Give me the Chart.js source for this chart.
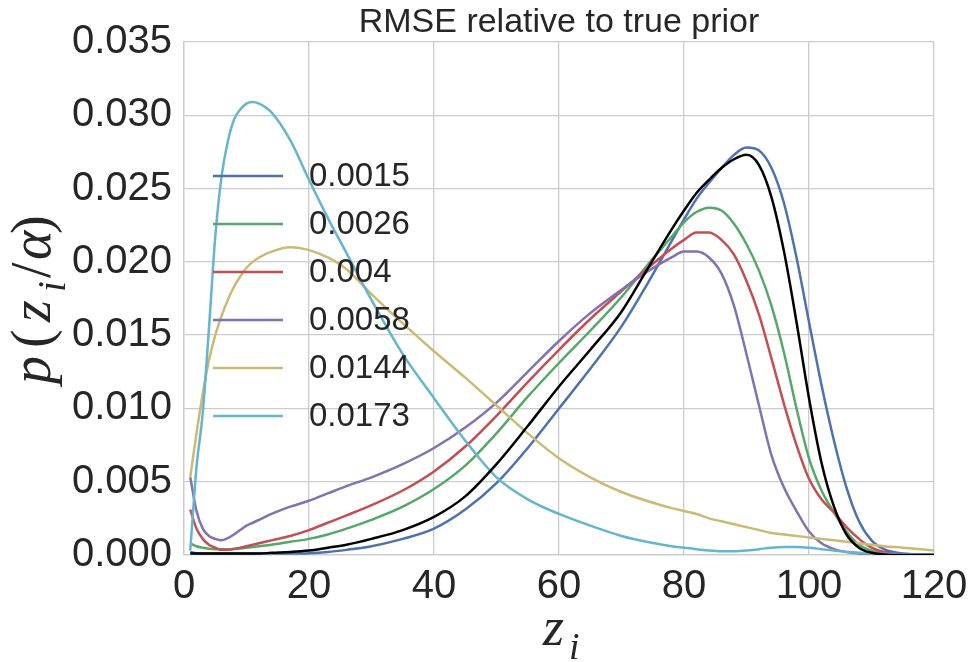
<!DOCTYPE html>
<html>
<head>
<meta charset="utf-8">
<script src="https://cdn.jsdelivr.net/npm/chart.js@4.4.0/dist/chart.umd.min.js"></script>
<style>
  html, body { margin: 0; padding: 0; background: #fff; }
  #wrap { width: 972px; height: 662px; position: relative; }
</style>
</head>
<body>
<div id="wrap"><canvas id="rmseChart"></canvas></div>
<script>
// z_i grid shared by all curves
const zGrid = [1, 2, 3, 4, 5, 6, 7, 8, 9, 10, 11, 12, 14, 17, 20, 23, 26, 30, 35, 40, 45, 50, 55, 60, 65, 70,
  74, 78, 80, 82, 84, 86, 88, 90, 92, 94, 96, 98, 100, 102, 104, 106, 108, 110, 112, 115, 120];

// p(z_i / alpha), one list per RMSE value
const rmse0015 = [0.0002, 0.00012, 0.0001, 0.0001, 0.0001, 0.0001, 0.0001, 0.0001, 0.0001, 0.0001, 0.0001, 0.0001, 0.0001, 0.0001, 0.00012, 0.0002, 0.00035, 0.0006, 0.0011, 0.0018, 0.0031, 0.0049, 0.0073, 0.0100, 0.0127, 0.0156,
  0.0184, 0.0214, 0.0229, 0.0243, 0.0254, 0.0264, 0.0273, 0.0278, 0.0276, 0.0264, 0.0240, 0.0203, 0.0159, 0.0116, 0.0078, 0.0046, 0.0023, 0.0010, 0.0004, 0.0001, 0.00002];
const rmse0026 = [0.0008, 0.0006, 0.0005, 0.00043, 0.0004, 0.0004, 0.0004, 0.00042, 0.00045, 0.0005, 0.00055, 0.0006, 0.0007, 0.0009, 0.0011, 0.0014, 0.0018, 0.0024, 0.0033, 0.0045, 0.0061, 0.0083, 0.0108, 0.0131, 0.0153, 0.0176,
  0.0197, 0.0217, 0.0227, 0.0234, 0.0237, 0.0235, 0.0226, 0.0212, 0.0194, 0.0170, 0.0138, 0.0100, 0.0066, 0.0044, 0.0029, 0.0016, 0.0007, 0.0003, 0.0001, 0.00003, 0];
const rmse004 = [0.0031, 0.0018, 0.0011, 0.0007, 0.0005, 0.00036, 0.00036, 0.0004, 0.0005, 0.0006, 0.0007, 0.0008, 0.0010, 0.0013, 0.0017, 0.0022, 0.0027, 0.0034, 0.0044, 0.0057, 0.0074, 0.0095, 0.0118, 0.0140, 0.0161, 0.0180,
  0.0195, 0.0209, 0.0215, 0.0220, 0.0220, 0.0215, 0.0205, 0.0187, 0.0164, 0.0134, 0.0103, 0.0075, 0.0052, 0.0038, 0.0029, 0.0019, 0.0011, 0.0005, 0.0002, 0.00005, 0];
const rmse0058 = [0.0053, 0.0030, 0.0018, 0.0013, 0.0011, 0.0010, 0.00115, 0.0014, 0.0017, 0.0020, 0.0022, 0.0024, 0.0028, 0.0033, 0.0037, 0.0042, 0.0047, 0.0053, 0.0062, 0.0073, 0.0087, 0.0104, 0.0125, 0.0146, 0.0165, 0.0181,
  0.0193, 0.0203, 0.0207, 0.0207, 0.0203, 0.0192, 0.0170, 0.0137, 0.0102, 0.0068, 0.0046, 0.0030, 0.0016, 0.0008, 0.0004, 0.0002, 0.0001, 0.00005, 0.00002, 0, 0];
const rmse0144 = [0.0053, 0.0083, 0.0110, 0.0133, 0.0150, 0.0163, 0.0174, 0.0183, 0.0190, 0.0196, 0.0200, 0.0203, 0.0207, 0.0210, 0.0208, 0.0203, 0.0195, 0.0178, 0.0158, 0.0139, 0.0121, 0.0102, 0.0083, 0.0066, 0.0053, 0.0043,
  0.0037, 0.0032, 0.0030, 0.0028, 0.0025, 0.0023, 0.0021, 0.0019, 0.0017, 0.0015, 0.0014, 0.0013, 0.0012, 0.0011, 0.0010, 0.0009, 0.0008, 0.0007, 0.0006, 0.0005, 0.0003];
const rmse0173 = [0.0003, 0.0060, 0.0097, 0.0155, 0.0217, 0.0258, 0.0282, 0.0297, 0.0304, 0.0308, 0.0309, 0.0308, 0.0302, 0.0283, 0.0256, 0.0230, 0.0206, 0.0174, 0.0137, 0.0107, 0.0078, 0.0053, 0.0038, 0.0028, 0.0020, 0.0013,
  0.0009, 0.0006, 0.0005, 0.0004, 0.0003, 0.00025, 0.00025, 0.0003, 0.0004, 0.0005, 0.00055, 0.00055, 0.0005, 0.0004, 0.0003, 0.0002, 0.00015, 0.0001, 0.00008, 0.00005, 0.00003];
const truePrior = [0.0001, 0.0001, 0.0001, 0.0001, 0.0001, 0.0001, 0.0001, 0.0001, 0.0001, 0.0001, 0.0001, 0.0001, 0.00015, 0.0002, 0.0003, 0.0005, 0.0007, 0.0011, 0.0017, 0.0026, 0.0040, 0.0062, 0.0088, 0.0115, 0.0140, 0.0166,
  0.0194, 0.0222, 0.0235, 0.0247, 0.0256, 0.0264, 0.0270, 0.0273, 0.0266, 0.0244, 0.0207, 0.0159, 0.0107, 0.0063, 0.0033, 0.0014, 0.0005, 0.00015, 0.00004, 0, 0];

const seriesLabels = ['0.0015', '0.0026', '0.004', '0.0058', '0.0144', '0.0173'];
const seriesValues = [rmse0015, rmse0026, rmse004, rmse0058, rmse0144, rmse0173];
const seriesColors = ['#4C72B0', '#55A868', '#C44E52', '#8172B2', '#CCB974', '#64B5CD'];

const xTickValues = [0, 20, 40, 60, 80, 100, 120];
const yTickValues = [0, 0.005, 0.010, 0.015, 0.020, 0.025, 0.030, 0.035];
const chartTitle = 'RMSE relative to true prior';

const TEXT_COLOR = '#262626';
const GRID_COLOR = '#cccccc';

Chart.defaults.font.family = "'Liberation Sans', Arial, sans-serif";
Chart.defaults.color = TEXT_COLOR;

const toPoints = arr => zGrid.map((z, i) => ({ x: z, y: arr[i] }));

// matplotlib draws later lines on top; in Chart.js a lower order is on top
const datasets = seriesLabels.map((lbl, i) => ({
  label: lbl,
  data: toPoints(seriesValues[i]),
  borderColor: seriesColors[i],
  order: 10 - i,
}));
datasets.push({ label: '', data: toPoints(truePrior), borderColor: '#000000', order: 0 });

//  Legend drawn inside the plot, single column
const insideLegend = {
  id: 'insideLegend',
  afterDatasetsDraw(chart) {
    const { ctx, chartArea } = chart;
    ctx.save();
    ctx.font = "33px 'Liberation Sans', Arial, sans-serif";
    ctx.textBaseline = 'middle';
    ctx.lineWidth = 2.5;
    let row = 0;
    chart.data.datasets.forEach(ds => {
      if (!ds.label) return;
      const y = 176 + row * 48;
      const x0 = chartArea.left + 29;
      ctx.strokeStyle = ds.borderColor;
      ctx.beginPath();
      ctx.moveTo(x0, y);
      ctx.lineTo(x0 + 70, y);
      ctx.stroke();
      ctx.fillStyle = TEXT_COLOR;
      ctx.fillText(ds.label, x0 + 96, y + 1);
      row++;
    });
    ctx.restore();
  }
};

//  Math-style axis titles with subscripts
function drawMath(ctx, parts, size) {
  parts.forEach(p => {
    const fs = p.sub ? size * 0.7 : size;
    ctx.font = (p.upright ? '' : 'italic ') + fs + "px 'Liberation Serif', 'DejaVu Serif', serif";
    ctx.fillText(p.t, p.at, p.sub ? size * 0.26 : 0);
  });
}

const titles = {
  id: 'titles',
  afterDraw(chart) {
    const { ctx, chartArea } = chart;
    const xc = (chartArea.left + chartArea.right) / 2;

    ctx.save();
    ctx.fillStyle = TEXT_COLOR;
    ctx.textAlign = 'center';
    ctx.textBaseline = 'alphabetic';
    ctx.font = "34px 'Liberation Sans', Arial, sans-serif";
    ctx.fillText(chartTitle, xc, 32);
    ctx.restore();

    // x title: z_i
    ctx.save();
    ctx.fillStyle = TEXT_COLOR;
    ctx.textAlign = 'left';
    ctx.textBaseline = 'alphabetic';
    ctx.translate(xc - 16, 645);
    drawMath(ctx, [
      { t: 'z', at: 0 },
      { t: 'i', at: 26, sub: true },
    ], 54);
    ctx.restore();

    // y title: p(z_i / alpha)
    ctx.save();
    ctx.fillStyle = TEXT_COLOR;
    ctx.textAlign = 'left';
    ctx.textBaseline = 'alphabetic';
    ctx.translate(50, 386);
    ctx.rotate(-Math.PI / 2);
    drawMath(ctx, [
      { t: 'p', at: 2 },
      { t: '(', at: 38, upright: true },
      { t: 'z', at: 64 },
      { t: 'i', at: 94, sub: true },
      { t: '/', at: 108, upright: true },
      { t: '\u03B1', at: 126 },
      { t: ')', at: 152, upright: true },
    ], 56);
    ctx.restore();
  }
};

new Chart(document.getElementById('rmseChart'), {
  type: 'line',
  data: { datasets },
  plugins: [insideLegend, titles],
  options: {
    responsive: true,
    maintainAspectRatio: false,
    animation: false,
    layout: { padding: { left: 0, right: 38, top: 42, bottom: 0 } },
    elements: {
      line: { borderWidth: 2.5, cubicInterpolationMode: 'monotone', fill: false },
      point: { radius: 0 },
    },
    scales: {
      x: {
        type: 'linear',
        min: 0,
        max: 120,
        afterBuildTicks: s => { s.ticks = xTickValues.map(v => ({ value: v })); },
        afterFit: s => { s.height = 107; s.paddingLeft = 0; s.paddingRight = 0; },
        grid: { color: GRID_COLOR, lineWidth: 1.3, drawTicks: false },
        border: { color: GRID_COLOR, width: 1.3 },
        ticks: { padding: 8, color: TEXT_COLOR, font: { size: 40 }, maxRotation: 0 },
      },
      y: {
        type: 'linear',
        min: 0,
        max: 0.035,
        afterBuildTicks: s => { s.ticks = yTickValues.map(v => ({ value: v })); },
        afterFit: s => { s.width = 184; s.paddingTop = 0; s.paddingBottom = 0; },
        grid: { color: GRID_COLOR, lineWidth: 1.3, drawTicks: false },
        border: { color: GRID_COLOR, width: 1.3 },
        ticks: { padding: 12, color: TEXT_COLOR, font: { size: 40 }, callback: v => v.toFixed(3) },
      }
    },
    plugins: {
      legend: { display: false },
      tooltip: { enabled: false },
      title: { display: false },
    }
  }
});
</script>
</body>
</html>
